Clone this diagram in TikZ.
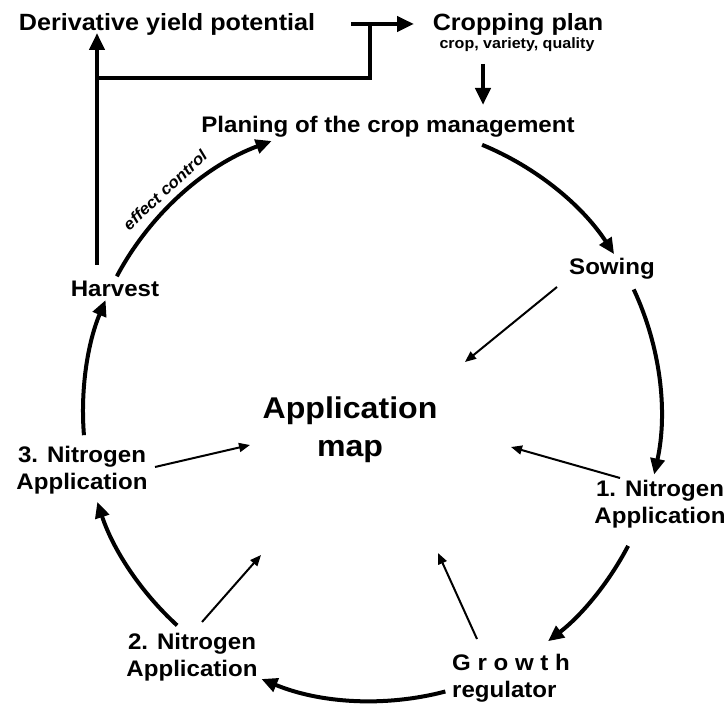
\documentclass[tikz,border=0pt]{standalone}
\usepackage{fontspec}
\setmainfont[FakeStretch=1.07]{Liberation Sans}
\usetikzlibrary{arrows.meta,calc}
\begin{document}
\begin{tikzpicture}[x=1pt,y=1pt,
  lab/.style={font=\fontsize{22.5}{27}\selectfont\bfseries, inner sep=0pt, anchor=base, align=center},
  head/.style={font=\fontsize{23.5}{28}\selectfont\bfseries, inner sep=0pt, anchor=base},
  sub/.style={font=\fontsize{15}{18}\selectfont\bfseries, inner sep=0pt, anchor=base},
  mapst/.style={font=\fontsize{30}{38.5}\selectfont\bfseries, inner sep=0pt, anchor=base, align=center},
  note/.style={font=\fontsize{16}{16}\selectfont\bfseries\itshape, inner sep=0pt},
  cyc/.style={line width=4pt, -{Triangle[length=16pt,width=14pt]}},
  thk/.style={line width=4.5pt},
  thkarr/.style={line width=4.5pt, -{Triangle[length=17pt,width=15pt]}},
  thin/.style={line width=2pt, -{Triangle[length=11pt,width=9pt]}},
]
\useasboundingbox (0,0) rectangle (725,704);
\coordinate (C) at (372,292);
% labels (multi-line labels are placed by the baseline of their last line)
\node[head] (deriv) at (167,673) {Derivative yield potential};
\node[head] (crop) at (518,673) {Cropping plan};
\node[sub] (cropsub) at (517,655.5) {crop, variety, quality};
\node[lab] (plan) at (388,571) {Planing of the crop management};
\node[lab] (sow) at (612,429) {Sowing};
\node[lab] (harv) at (115,407) {Harvest};
\node[mapst] (map) at (350,247) {Application\\map};
\node[lab] (n3) at (82,214) {3. Nitrogen\\Application};
\node[lab] (n1) at (660,180) {1. Nitrogen\\Application};
\node[lab] (n2) at (192,28) {2. Nitrogen\\Application};
\node[lab, align=left, anchor=base west] (gr) at (452,7) {G r o w t h\\regulator};
\node[note, rotate=43] (eff) at (165,514) {effect control};
% cycle arcs
\draw[cyc] ($(C)+(152:289)$) arc[start angle=152, end angle=110.3, radius=289];
\draw[cyc] ($(C)+(67.6:289)$) arc[start angle=67.6, end angle=33.1, radius=289];
\draw[cyc] ($(C)+(25.1:289)$) arc[start angle=25.1, end angle=-12.5, radius=289];
\draw[cyc] ($(C)+(-27.6:289)$) arc[start angle=-27.6, end angle=-52.5, radius=289];
\draw[cyc] ($(C)+(-75.3:289)$) arc[start angle=-75.3, end angle=-112.5, radius=289];
\draw[cyc] ($(C)+(-132.4:289)$) arc[start angle=-132.4, end angle=-161.9, radius=289];
\draw[cyc] ($(C)+(184.6:289)$) arc[start angle=184.6, end angle=157.2, radius=289];
% thin arrows to the map
\coordinate (sowS) at (557,417); \coordinate (sowT) at (465,342);
\coordinate (n3S) at (155,237);  \coordinate (n3T) at (250,259);
\coordinate (n1S) at (620,226);  \coordinate (n1T) at (511,257);
\coordinate (n2S) at (202,82);   \coordinate (n2T) at (261,149);
\coordinate (grS) at (477,65);   \coordinate (grT) at (438,151);
\draw[thin] (sowS) -- (sowT);
\draw[thin] (n3S) -- (n3T);
\draw[thin] (n1S) -- (n1T);
\draw[thin] (n2S) -- (n2T);
\draw[thin] (grS) -- (grT);
% top feedback
\coordinate (hvS) at (97,439); \coordinate (hvT) at (97,671);
\coordinate (jL) at (97,626); \coordinate (jT) at (370,680);
\coordinate (haS) at (351,680); \coordinate (haT) at (414,680);
\coordinate (cdS) at (483,640); \coordinate (cdT) at (483,599);
\draw[thkarr] (hvS) -- (hvT);
\draw[thk] (jL) -| (jT);
\draw[thkarr] (haS) -- (haT);
\draw[thkarr] (cdS) -- (cdT);
\end{tikzpicture}
\end{document}
